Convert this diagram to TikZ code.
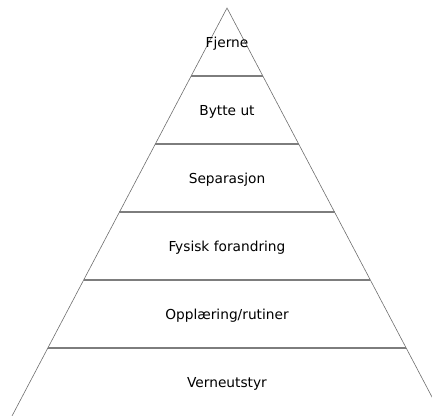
\documentclass[tikz,border=0pt]{standalone}
\usepackage{fontspec}
\setmainfont{DejaVu Sans}
\usepackage{xcolor}
\usepackage{tikz}
\usetikzlibrary{positioning,calc}

\definecolor{edgegray}{RGB}{110,110,110}
\definecolor{levelgray}{RGB}{125,125,125}

\begin{document}
\begin{tikzpicture}[x=0.75pt, y=-0.75pt,
    edge/.style={edgegray, line width=0.45pt},
    level/.style={levelgray, line width=0.8pt},
    label/.style={anchor=base, inner sep=0pt, font=\fontsize{10.3}{12}\selectfont}]
    \useasboundingbox (0,0) rectangle (432,416);
    \clip (0,0) rectangle (432,416);

    % Pyramid sides
    \coordinate (apex) at (227,8);
    \coordinate (leftfoot) at (12,416);
    \coordinate (rightfoot) at (442,416);
    \draw[edge] (leftfoot) -- (apex) -- (rightfoot);

    % Level lines
    \foreach \k in {1,...,5} {
        \pgfmathsetmacro{\yy}{8+68*\k}
        \pgfmathsetmacro{\hw}{(\yy-8)*0.527}
        \draw[level] (227-\hw,\yy) -- (227+\hw,\yy);
    }

    % Labels
    \foreach \txt [count=\k from 0] in {Fjerne, Bytte ut, Separasjon, Fysisk forandring, Opplæring/rutiner, Verneutstyr} {
        \node[label] (lvl\k) at (227,48+68*\k) {\txt};
    }
\end{tikzpicture}
\end{document}
